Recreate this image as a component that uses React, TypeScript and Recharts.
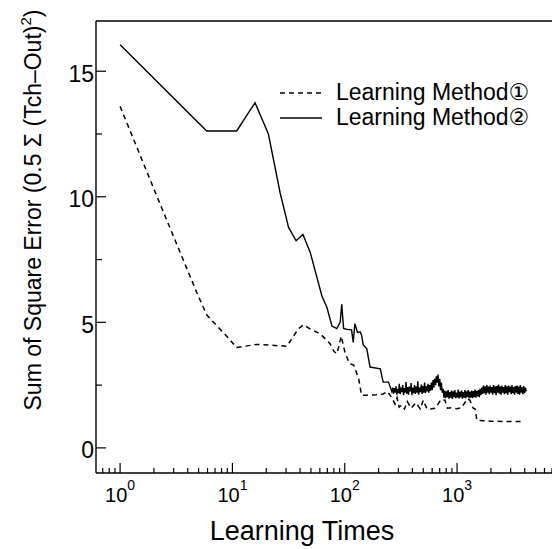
import React from 'react';
import { Legend, Line, LineChart, ReferenceLine, XAxis, YAxis } from 'recharts';

const FONT = '"Liberation Sans", Arial, "DejaVu Sans", sans-serif';

// learning method 1 (dashed)
const method1Times = [
  1, 2.18, 4.8, 5.9, 7.3, 8.9, 10.9, 16.5, 30.5, 38.7, 42.8, 50.9, 60.2, 74, 80, 85, 88, 93, 97, 101,
  111, 120, 133, 141, 157, 190, 220, 240, 262, 280, 292, 305, 320, 340, 360, 390, 430, 470, 500, 540,
  580, 640, 720, 780, 820, 900, 1000, 1100, 1230, 1300, 1390, 1450, 1500, 2000, 3000, 3900,
];
const method1Error = [
  13.6, 9.9, 6.2, 5.3, 4.85, 4.45, 4.0, 4.12, 4.05, 4.75, 4.9, 4.7, 4.55, 4.15, 3.85, 3.75, 4.0, 4.45, 4.1, 3.75,
  3.35, 3.3, 2.75, 2.1, 2.1, 2.12, 2.15, 2.25, 2.0, 1.75, 2.0, 1.62, 1.7, 1.55, 1.85, 1.58, 1.8, 1.55, 1.9, 1.55,
  1.55, 1.58, 1.93, 1.9, 1.58, 1.6, 1.56, 1.6, 1.95, 1.9, 1.58, 1.55, 1.1, 1.06, 1.05, 1.05,
];

// learning method 2 (solid), descent then the noisy plateau
const method2Times = [
  1, 5.9, 10.9, 15.9, 20.9, 26.6, 31.6, 36.9, 42.4, 49.3,
  62.6, 69.3, 77, 85, 91, 94, 97.6, 105, 115, 119,
  123, 130, 137, 141, 146, 157, 168, 207, 220, 245,
  262, 267, 271, 276, 281, 286, 291, 296, 301, 306,
  311, 317, 322, 328, 334, 339, 345, 351, 357, 364,
  370, 376, 383, 390, 396, 403, 410, 418, 425, 432,
  440, 447, 455, 463, 471, 480, 488, 496, 505, 514,
  523, 532, 541, 551, 560, 570, 580, 590, 600, 611,
  621, 632, 643, 654, 665, 677, 689, 701, 713, 725,
  738, 751, 764, 777, 790, 804, 818, 832, 847, 861,
  876, 892, 907, 923, 939, 955, 972, 989, 1006, 1023,
  1041, 1059, 1078, 1097, 1116, 1135, 1155, 1175, 1195, 1216,
  1237, 1259, 1280, 1303, 1325, 1348, 1372, 1396, 1420, 1445,
  1470, 1495, 1521, 1547, 1574, 1602, 1630, 1658, 1687, 1716,
  1746, 1776, 1807, 1838, 1870, 1903, 1936, 1970, 2004, 2039,
  2074, 2110, 2147, 2184, 2222, 2261, 2300, 2340, 2380, 2422,
  2464, 2507, 2550, 2595, 2639, 2685, 2732, 2780, 2827, 2876,
  2926, 2977, 3029, 3082, 3135, 3190, 3244, 3300, 3358, 3416,
  3476, 3536, 3597, 3660, 3723, 3788, 3854, 3921, 3989, 4058,
  4128,
];
const method2Error = [
  16.05, 12.62, 12.62, 13.75, 12.5, 10.15, 8.78, 8.25, 8.5, 7.78,
  6.05, 5.6, 4.85, 4.75, 5.0, 5.72, 4.76, 4.72, 4.7, 4.2,
  4.95, 4.6, 4.62, 4.5, 4.1, 3.95, 3.22, 3.15, 2.62, 2.62,
  2.25, 2.4, 2.15, 2.38, 2.2, 2.45, 2.12, 2.35, 2.18, 2.55,
  2.14, 2.4, 2.22, 2.5, 2.1, 2.38, 2.2, 2.62, 2.15, 2.42,
  2.12, 2.45, 2.25, 2.58, 2.1, 2.4, 2.18, 2.5, 2.15, 2.45,
  2.2, 2.65, 2.12, 2.4, 2.22, 2.52, 2.15, 2.46, 2.2, 2.6,
  2.18, 2.45, 2.25, 2.55, 2.2, 2.5, 2.28, 2.6, 2.3, 2.7,
  2.4, 2.75, 2.5, 2.85, 2.6, 2.92, 2.45, 2.75, 2.3, 2.6,
  2.2, 2.35, 2.0, 2.28, 1.98, 2.25, 2.02, 2.3, 1.96, 2.22,
  2.0, 2.28, 1.95, 2.25, 2.02, 2.3, 1.98, 2.2, 2.0, 2.32,
  1.97, 2.24, 2.02, 2.28, 1.96, 2.22, 2.0, 2.3, 1.98, 2.25,
  2.03, 2.3, 1.97, 2.24, 2.0, 2.28, 1.98, 2.26, 2.02, 2.32,
  2.0, 2.27, 2.05, 2.3, 2.02, 2.35, 2.1, 2.4, 2.15, 2.48,
  2.18, 2.45, 2.12, 2.5, 2.2, 2.44, 2.14, 2.48, 2.2, 2.42,
  2.12, 2.5, 2.18, 2.45, 2.1, 2.46, 2.2, 2.52, 2.16, 2.44,
  2.12, 2.48, 2.2, 2.42, 2.14, 2.5, 2.18, 2.45, 2.12, 2.48,
  2.22, 2.44, 2.14, 2.5, 2.18, 2.42, 2.12, 2.46, 2.2, 2.48,
  2.15, 2.44, 2.12, 2.5, 2.2, 2.42, 2.14, 2.46, 2.18, 2.4,
  2.25,
];

const xMajorTicks = [1, 10, 100, 1000];
const xMinorTicks = [
  0.7, 0.8, 0.9, 2, 3, 4, 5, 6, 7, 8, 9, 20, 30, 40, 50, 60, 70, 80, 90,
  200, 300, 400, 500, 600, 700, 800, 900, 2000, 3000, 4000, 5000, 6000, 7000,
];
const yMajorTicks = [0, 5, 10, 15];
const yMinorTicks = [2.5, 7.5, 12.5];
const legendLabels = ['Learning Method\u2460', 'Learning Method\u2461'];

const method1 = method1Times.map((t, i) => ({ t, err: method1Error[i] }));
const method2 = method2Times.map((t, i) => ({ t, err: method2Error[i] }));

const XTick = (props: any) => {
  const { x, y, payload } = props;
  const major = xMajorTicks.includes(payload.value);
  return (
    <g>
      <line x1={x} x2={x} y1={y} y2={y - (major ? 10 : 5)} stroke="#000" strokeWidth={1.2} />
      {major && (
        <text x={x} y={y + 29} textAnchor="middle" fontSize={20} fontFamily={FONT} fill="#000">
          10
          <tspan fontSize={14} dy={-12}>{Math.round(Math.log10(payload.value))}</tspan>
        </text>
      )}
    </g>
  );
};

const YTick = (props: any) => {
  const { x, y, payload } = props;
  const major = yMajorTicks.includes(payload.value);
  return (
    <g>
      <line x1={x} x2={x + (major ? 10 : 6)} y1={y} y2={y} stroke="#000" strokeWidth={1.2} />
      {major && (
        <text x={x - 2} y={y + 10.5} textAnchor="end" fontSize={23} fontFamily={FONT} fill="#000">
          {payload.value}
        </text>
      )}
    </g>
  );
};

const renderLegend = () => (
  <div style={{ fontFamily: FONT, fontSize: 23, color: '#000' }}>
    {legendLabels.map((label, i) => (
      <div key={label} style={{ display: 'flex', alignItems: 'center', height: 25 }}>
        <svg width={58} height={25}>
          <line x1={2} x2={44} y1={13} y2={13} stroke="#000" strokeWidth={1.4}
            strokeDasharray={i === 0 ? '5 4' : undefined} />
        </svg>
        <span>{label}</span>
      </div>
    ))}
  </div>
);

const App = () => {
  return (
    <div style={{ position: 'absolute', left: 0, top: 0, background: '#fff' }}>
      <LineChart width={552} height={549} margin={{ top: 21, right: 0, bottom: 0, left: 0 }}>
        <XAxis
          dataKey="t"
          type="number"
          scale="log"
          domain={[0.61, 7000]}
          allowDataOverflow
          ticks={[...xMinorTicks, ...xMajorTicks]}
          interval={0}
          tickSize={0}
          tickMargin={0}
          tick={<XTick />}
          height={76}
          axisLine={{ stroke: '#000', strokeWidth: 1.4 }}
          label={{
            content: () => (
              <text x={302} y={540} textAnchor="middle" fontSize={27} fontFamily={FONT} fill="#000">
                Learning Times
              </text>
            ),
          }}
        />
        <YAxis
          type="number"
          domain={[-1, 17]}
          allowDataOverflow
          ticks={[...yMajorTicks, ...yMinorTicks]}
          interval={0}
          tickSize={0}
          tickMargin={0}
          tick={<YTick />}
          width={96}
          axisLine={{ stroke: '#000', strokeWidth: 1.4 }}
          label={{
            content: () => (
              <text x={41} y={210} transform="rotate(-90 41 210)" textAnchor="middle" fontSize={23}
                fontFamily={FONT} fill="#000">
                Sum of Square Error (0.5 {'\u03A3'} (Tch{'\u2013'}Out)
                <tspan fontSize={15} dy={-10}>2</tspan>
                <tspan dy={10}>)</tspan>
              </text>
            ),
          }}
        />
        <ReferenceLine y={17} stroke="#000" strokeWidth={1.4} ifOverflow="extendDomain" />
        <Legend
          content={renderLegend}
          layout="horizontal"
          verticalAlign="middle"
          align="center"
          wrapperStyle={{ top: 80, left: 278, width: 274 }}
        />
        <Line
          name="method1"
          data={method1}
          dataKey="err"
          type="linear"
          stroke="#000"
          strokeWidth={1.5}
          strokeDasharray="5 4"
          dot={false}
          isAnimationActive={false}
        />
        <Line
          name="method2"
          data={method2}
          dataKey="err"
          type="linear"
          stroke="#000"
          strokeWidth={1.4}
          dot={false}
          isAnimationActive={false}
        />
      </LineChart>
    </div>
  );
};

export default App;
